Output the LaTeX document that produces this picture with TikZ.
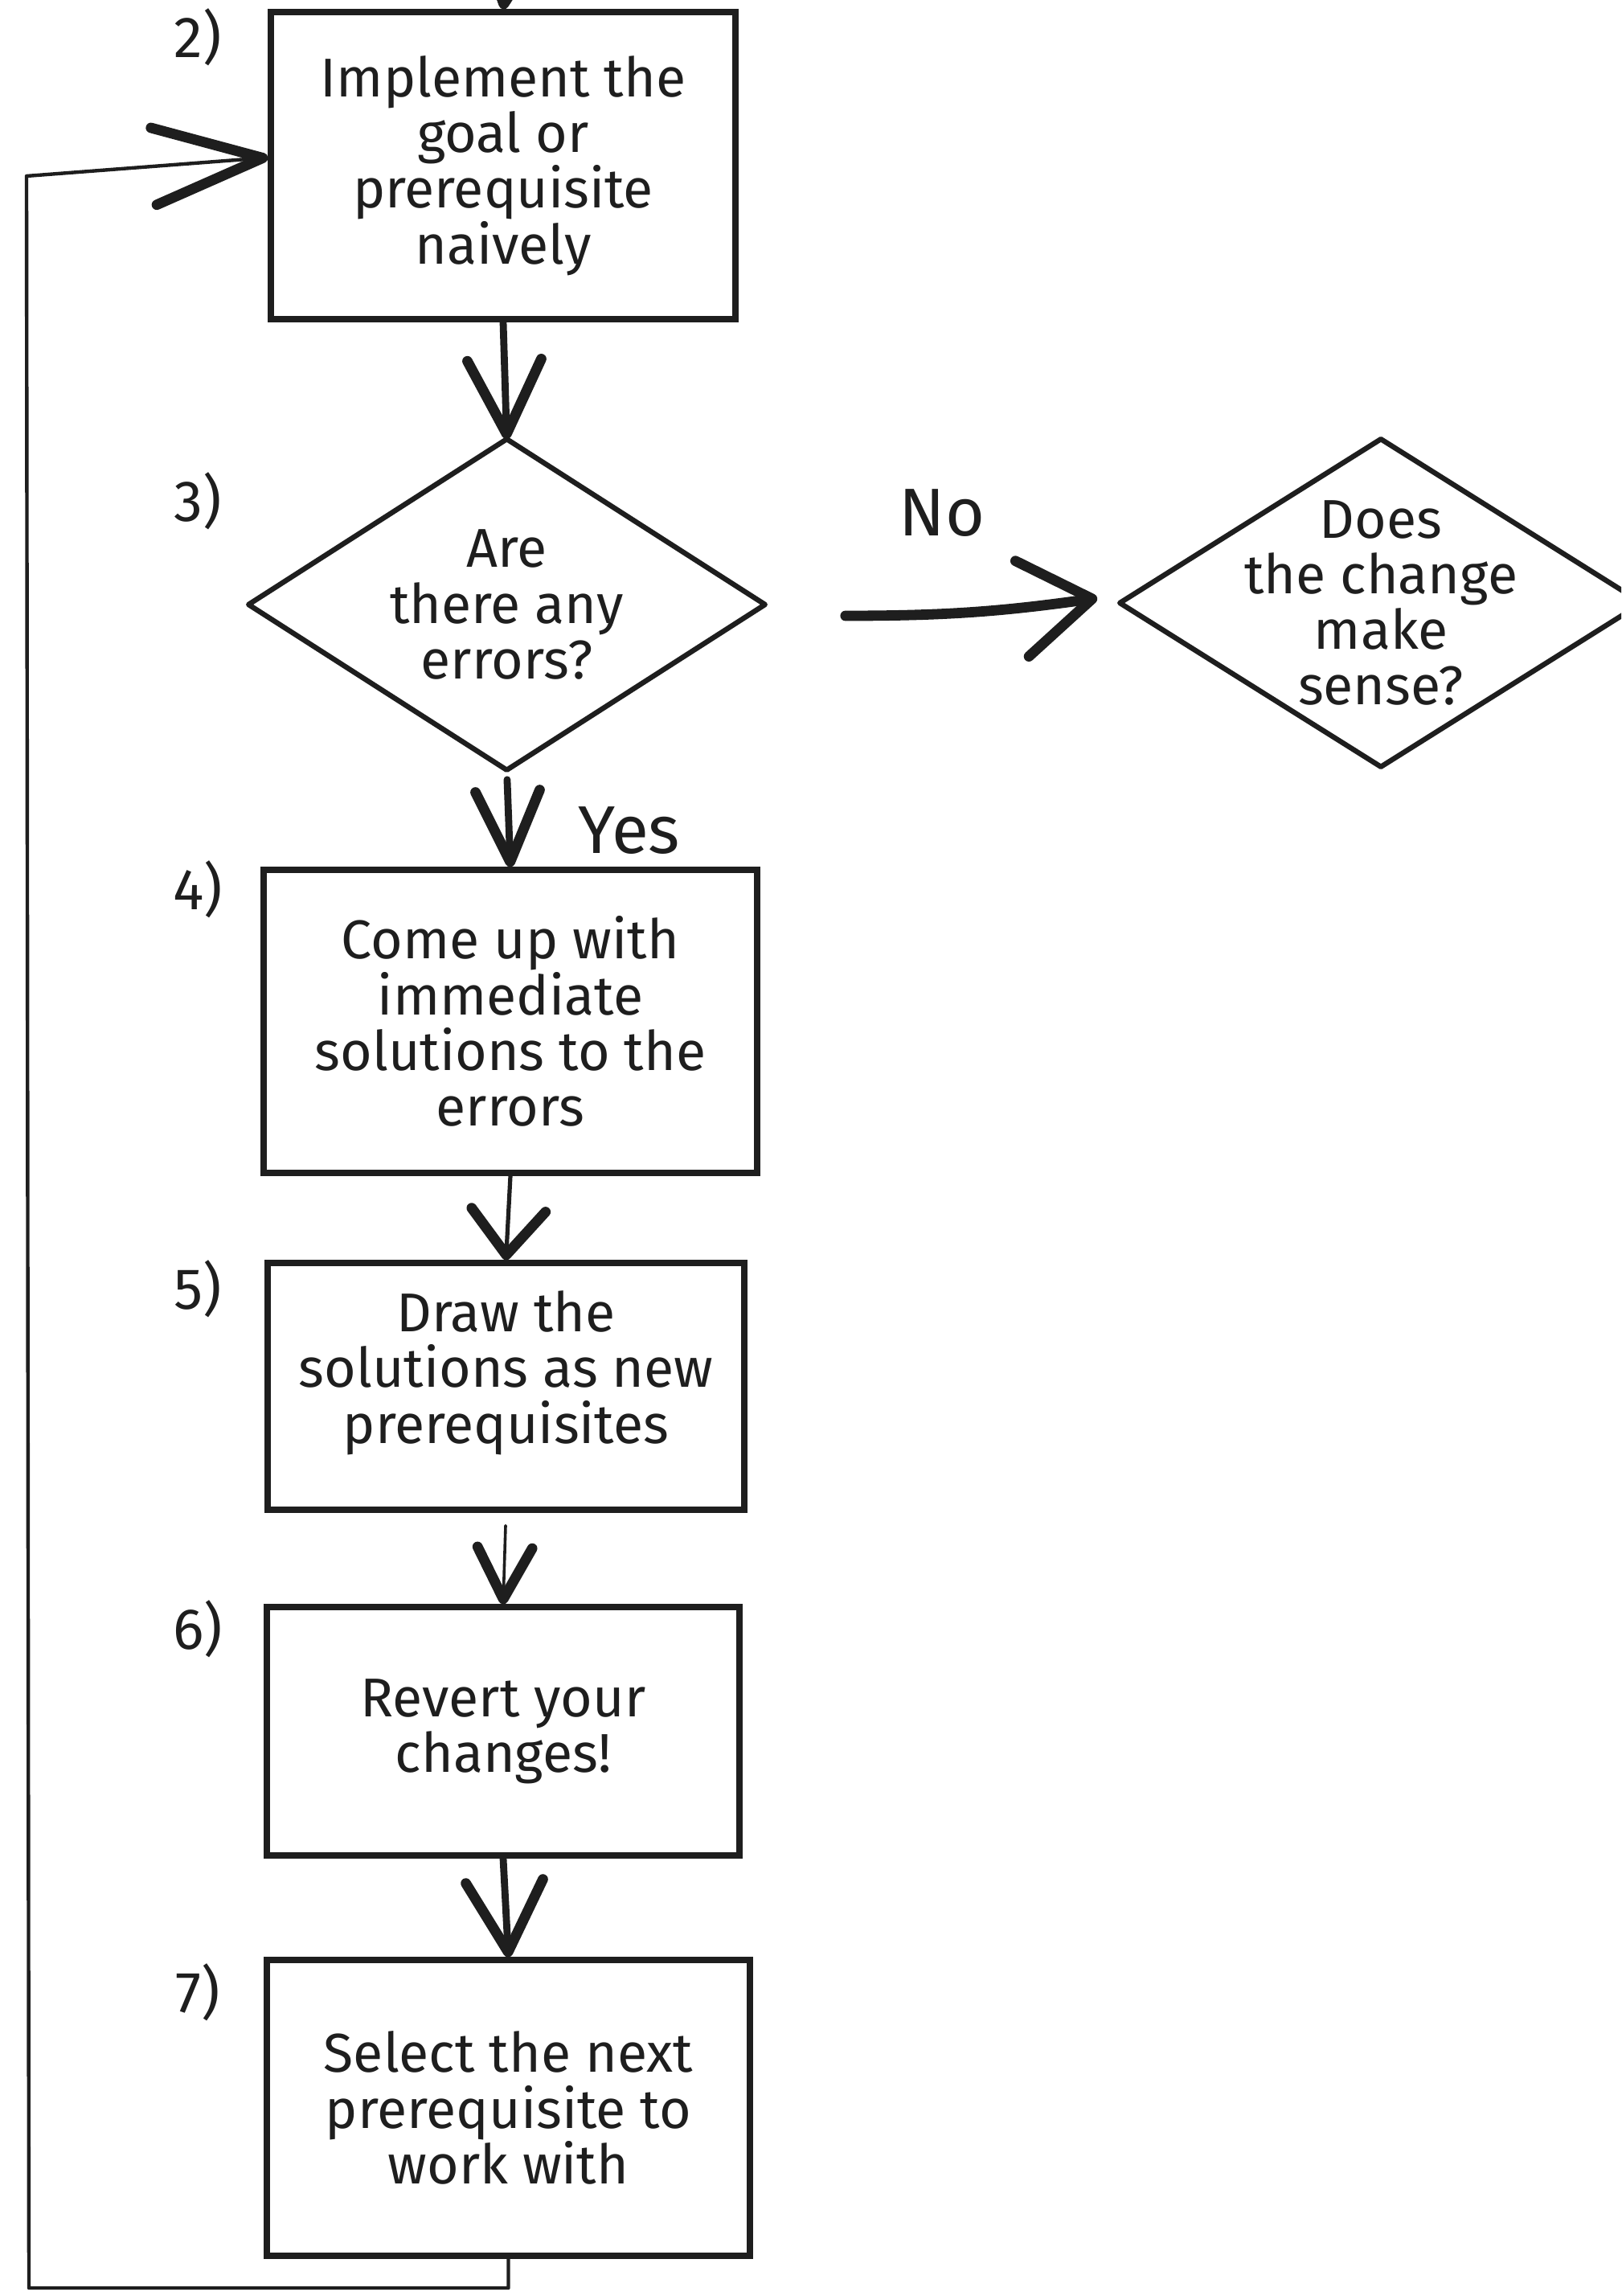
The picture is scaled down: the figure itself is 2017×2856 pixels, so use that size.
\documentclass[tikz,border=0pt]{standalone}
\usepackage{fontspec}
\setmainfont{Fira Sans}
\usetikzlibrary{arrows.meta}
\definecolor{ink}{HTML}{1E1E1E}
\newcommand\boxfont{\fontsize{17}{17.3}\selectfont}
\newcommand\numfont{\fontsize{18}{18}\selectfont}
\newcommand\tagfont{\fontsize{21}{21}\selectfont}
\begin{document}
\begin{tikzpicture}[x=0.25pt,y=-0.25pt,
  stepbox/.style 2 args={draw=ink, line width=1.8pt, inner sep=0pt, align=center,
                  font=\boxfont, text=ink, minimum width=#1, minimum height=#2},
  decision/.style 2 args={inner sep=0pt, align=center, font=\boxfont, text=ink,
                  minimum width=#1, minimum height=#2},
  outline/.style={draw=ink, line width=1.6pt, line join=round},
  steplabel/.style={font=\numfont, text=ink},
  branchlabel/.style={font=\tagfont, text=ink},
  flow/.style 2 args={draw=ink, line cap=round,
     -{Straight Barb[length=#1,width=#2,line width=3.2pt,round]}},
]
\useasboundingbox (0,0) rectangle (2017,2856);
\clip (0,0) rectangle (2017,2856);

% process boxes
\node[stepbox={144.5pt}{95.5pt}] (b2) at (626,206)
  {Implement the\\goal or\\prerequisite\\naively};
\node[stepbox={153.5pt}{94.25pt}] (b4) at (635,1270.5)
  {Come up with\\immediate\\solutions to the\\errors};
\node[stepbox={148.25pt}{76.75pt}] (b5) at (629.5,1724.5)
  {Draw the\\solutions as new\\prerequisites\\[-5.3pt]\mbox{}};
\node[stepbox={147pt}{77.25pt}] (b6) at (626,2153.5)
  {Revert your\\changes!};
\node[stepbox={150.25pt}{92pt}] (b7) at (632.5,2622)
  {Select the next\\prerequisite to\\work with};

% decisions
\node[decision={160.25pt}{102.5pt}] (d3) at (630.5,752) {Are\\there any\\errors?};
\draw[outline] (d3.north) -- (d3.east) -- (d3.south) -- (d3.west) -- cycle;
\node[decision={162pt}{101.5pt}] (d4) at (1718,750) {Does\\the change\\make\\sense?};
\draw[outline] (d4.north) -- (d4.east) -- (d4.south) -- (d4.west) -- cycle;

% step numbers
\node[steplabel] (n2) at (246,46) {2)};
\node[steplabel] (n3) at (246,623) {3)};
\node[steplabel] (n4) at (246,1106) {4)};
\node[steplabel] (n5) at (246,1603) {5)};
\node[steplabel] (n6) at (246,2026) {6)};
\node[steplabel] (n7) at (246,2478) {7)};

% branch labels
\node[branchlabel] (no) at (1172,638) {No};
\node[branchlabel] (yes) at (783,1033) {Yes};

% connectors
\coordinate (entry) at (638,-90);
\draw[flow={20pt}{20pt}, line width=1.6pt] (entry) -- (b2.north);
\draw[flow={23pt}{23pt}, line width=2.2pt] (b2.south) -- (d3.north);
\draw[flow={22pt}{20pt}, line width=2.2pt, shorten <=3pt] (d3.south) -- (b4.north);
\draw[flow={14pt}{23pt}, line width=1.3pt] (b4.south) -- (b5.north);
\draw[flow={16pt}{17pt}, line width=0.9pt, shorten <=4pt] (b5.south) -- (b6.north);
\draw[flow={22pt}{24pt}, line width=2.2pt] (b6.south) -- (b7.north);
\draw[flow={22pt}{30pt}, line width=3.2pt]
  ([xshift=25pt,yshift=-3.5pt]d3.east) to[bend right=4] ([xshift=-7pt,yshift=1.5pt]d4.west);

% loop back to the implementation step
\coordinate (lb) at (36,2846);
\coordinate (lt) at (33,219);
\draw[flow={34pt}{24pt}, line width=1.1pt, line join=round]
  (b7.south) |- (lb) -- (lt) -- ([yshift=2.5pt]b2.west);
\end{tikzpicture}
\end{document}
